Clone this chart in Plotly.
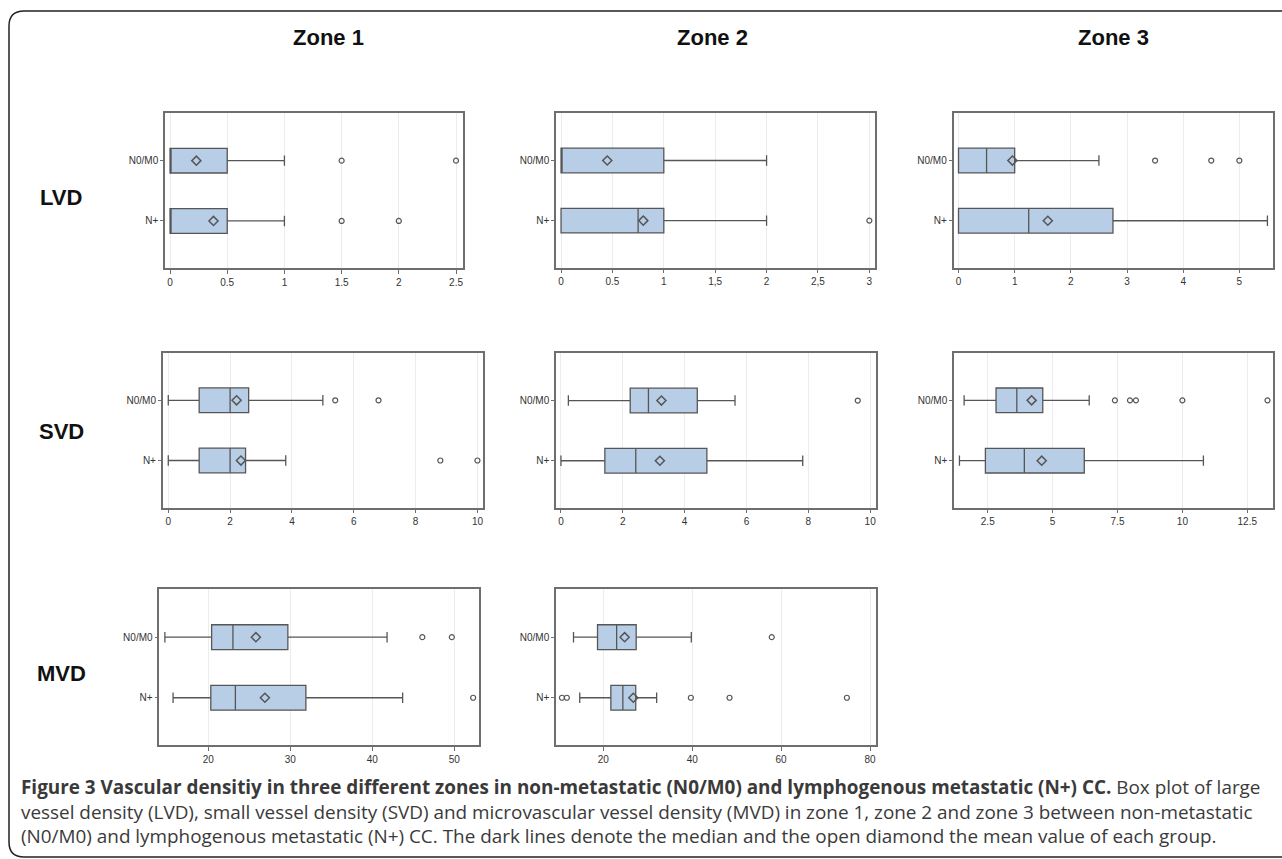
import plotly.graph_objects as go

W, H = 1282, 859

GROUPS = ["N0/M0", "N+"]
PANELS = ["LVD Zone 1", "LVD Zone 2", "LVD Zone 3",
          "SVD Zone 1", "SVD Zone 2", "SVD Zone 3",
          "MVD Zone 1", "MVD Zone 2"]

# per panel: [N0/M0, N+]
LOWER = [[0, 0], [0, 0], [0, 0], [0, 0], [0.24, 0], [1.59, 1.41], [14.7, 15.7], [13.3, 14.7]]
Q1 = [[0, 0], [0, 0], [0, 0], [1, 1], [2.24, 1.42], [2.82, 2.41], [20.4, 20.3], [18.7, 21.7]]
MEDIAN = [[0, 0], [0, 0.75], [0.5, 1.25], [2, 2], [2.83, 2.42], [3.62, 3.91], [23.0, 23.3], [23.0, 24.4]]
Q3 = [[0.5, 0.5], [1, 1], [1, 2.75], [2.6, 2.5], [4.41, 4.72], [4.62, 6.22], [29.7, 31.9], [27.4, 27.3]]
UPPER = [[1, 1], [2, 2], [2.5, 5.5], [5, 3.8], [5.63, 7.82], [6.41, 10.81], [41.8, 43.7], [39.8, 32.0]]
MEAN = [[0.23, 0.38], [0.45, 0.8], [0.96, 1.59], [2.21, 2.35], [3.25, 3.2], [4.19, 4.58], [25.8, 26.9], [24.8, 26.75]]
OUTLIERS = [
    [[1.5, 2.5], [1.5, 2]],
    [[], [3]],
    [[3.5, 4.5, 5], []],
    [[5.4, 6.8], [8.8, 10]],
    [[9.6], []],
    [[7.4, 7.98, 8.21, 10, 13.28], []],
    [[46.1, 49.7], [52.3]],
    [[57.9], [10.7, 11.8, 39.7, 48.4, 74.8]],
]

TICKVALS = [
    [0, 0.5, 1, 1.5, 2, 2.5],
    [0, 0.5, 1, 1.5, 2, 2.5, 3],
    [0, 1, 2, 3, 4, 5],
    [0, 2, 4, 6, 8, 10],
    [0, 2, 4, 6, 8, 10],
    [2.5, 5, 7.5, 10, 12.5],
    [20, 30, 40, 50],
    [20, 40, 60, 80],
]
TICKTEXT = [
    ["0", "0.5", "1", "1.5", "2", "2.5"],
    ["0", "0.5", "1", "1,5", "2", "2,5", "3"],
    ["0", "1", "2", "3", "4", "5"],
    ["0", "2", "4", "6", "8", "10"],
    ["0", "2", "4", "6", "8", "10"],
    ["2.5", "5", "7.5", "10", "12.5"],
    ["20", "30", "40", "50"],
    ["20", "40", "60", "80"],
]
XRANGES = [[-0.044, 2.561], [-0.049, 3.055], [-0.089, 5.594], [-0.18, 10.17],
           [-0.16, 10.19], [1.2, 13.48], [14.02, 53.05], [9.36, 81.35]]

ZONE_TITLES = ["Zone 1", "Zone 2", "Zone 3"]
ROW_TITLES = ["LVD", "SVD", "MVD"]

# panel pixel boxes (x0, x1, y0, y1)
BOXES = [
    (165, 463, 113, 268), (556, 875, 113, 267.5), (953.5, 1272.7, 113, 267.7),
    (162.7, 482.7, 352.7, 507.5), (556, 876, 353, 507.7), (954, 1272.7, 352.7, 507.7),
    (159.3, 479.3, 589.3, 745), (556, 876, 589.3, 745),
]

FILL = "#b8cde6"
LINE = "#565656"
FRAME = "#6e6e6e"
TICKFONT = dict(family="Liberation Sans, Arial, sans-serif", size=10, color="#333333")

fig = go.Figure()
layout = {}
for i, name in enumerate(PANELS):
    k = "" if i == 0 else str(i + 1)
    xa, ya = "x" + k, "y" + k
    fig.add_trace(go.Box(
        y=[0, 1], q1=Q1[i], median=MEDIAN[i], q3=Q3[i],
        lowerfence=LOWER[i], upperfence=UPPER[i],
        orientation="h", width=0.41, whiskerwidth=0.42,
        fillcolor=FILL, line=dict(color=LINE, width=1.3),
        boxpoints=False, xaxis=xa, yaxis=ya, showlegend=False, hoverinfo="skip",
    ))
    ox, oy = [], []
    for g in range(2):
        ox += OUTLIERS[i][g]
        oy += [g] * len(OUTLIERS[i][g])
    if ox:
        fig.add_trace(go.Scatter(
            x=ox, y=oy, mode="markers", xaxis=xa, yaxis=ya, showlegend=False,
            marker=dict(symbol="circle-open", size=5, color=LINE, line=dict(width=1.2)),
            hoverinfo="skip",
        ))
    fig.add_trace(go.Scatter(
        x=MEAN[i], y=[0, 1], mode="markers", xaxis=xa, yaxis=ya, showlegend=False,
        marker=dict(symbol="diamond-open", size=7, color=LINE, line=dict(width=1.5)),
        hoverinfo="skip",
    ))
    x0, x1, y0, y1 = BOXES[i]
    layout["xaxis" + k] = dict(
        domain=[x0 / W, x1 / W], anchor=ya, range=XRANGES[i],
        tickmode="array", tickvals=TICKVALS[i], ticktext=TICKTEXT[i],
        showgrid=True, gridcolor="#ececec", gridwidth=1, zeroline=False,
        showline=True, mirror=True, linecolor=FRAME, linewidth=1.5,
        ticks="outside", ticklen=4, tickcolor=FRAME, tickfont=TICKFONT,
    )
    layout["yaxis" + k] = dict(
        domain=[1 - y1 / H, 1 - y0 / H], anchor=xa, range=[1.78, -0.79],
        tickmode="array", tickvals=[0, 1], ticktext=GROUPS,
        showgrid=False, zeroline=False,
        showline=True, mirror=True, linecolor=FRAME, linewidth=1.5,
        ticks="outside", ticklen=3, tickcolor=FRAME, tickfont=TICKFONT,
    )

annotations = []
for t, px in zip(ZONE_TITLES, [328, 712, 1113]):
    annotations.append(dict(text="<b>%s</b>" % t, x=px / W, y=1 - 37 / H, xref="paper", yref="paper",
                            showarrow=False, xanchor="center", yanchor="middle",
                            font=dict(family="Liberation Sans, Arial, sans-serif", size=22, color="#111")))
for t, py in zip(ROW_TITLES, [197, 431, 673]):
    annotations.append(dict(text="<b>%s</b>" % t, x=61 / W, y=1 - py / H, xref="paper", yref="paper",
                            showarrow=False, xanchor="center", yanchor="middle",
                            font=dict(family="Liberation Sans, Arial, sans-serif", size=22, color="#111")))

CAPTION = [
    "<b>Figure 3 Vascular densitiy in three different zones in non-metastatic (N0/M0) and lymphogenous metastatic (N+) CC.</b> Box plot of large",
    "vessel density (LVD), small vessel density (SVD) and microvascular vessel density (MVD) in zone 1, zone 2 and zone 3 between non-metastatic",
    "(N0/M0) and lymphogenous metastatic (N+) CC. The dark lines denote the median and the open diamond the mean value of each group.",
]
annotations.append(dict(text="<br>".join(CAPTION), x=19 / W, y=1 - 811.5 / H, xref="paper", yref="paper",
                        showarrow=False, xanchor="left", yanchor="middle", align="left",
                        font=dict(family="Open Sans, Noto Sans, sans-serif", size=18.9, color="#3a3a3a")))


def P(px, py):
    return "%.5f,%.5f" % (px / W, 1 - py / H)


frame_path = ("M " + P(1300, 11) + " L " + P(24, 11) + " Q " + P(9, 11) + " " + P(9, 26) +
              " L " + P(9, 842) + " Q " + P(9, 857) + " " + P(24, 857) + " L " + P(1300, 857))

fig.update_layout(
    width=W, height=H, autosize=False,
    margin=dict(l=0, r=0, t=0, b=0),
    paper_bgcolor="white", plot_bgcolor="white",
    annotations=annotations,
    shapes=[dict(type="path", path=frame_path, xref="paper", yref="paper",
                 line=dict(color="#222", width=1.5))],
    **layout,
)

fig.write_html("out.html")
